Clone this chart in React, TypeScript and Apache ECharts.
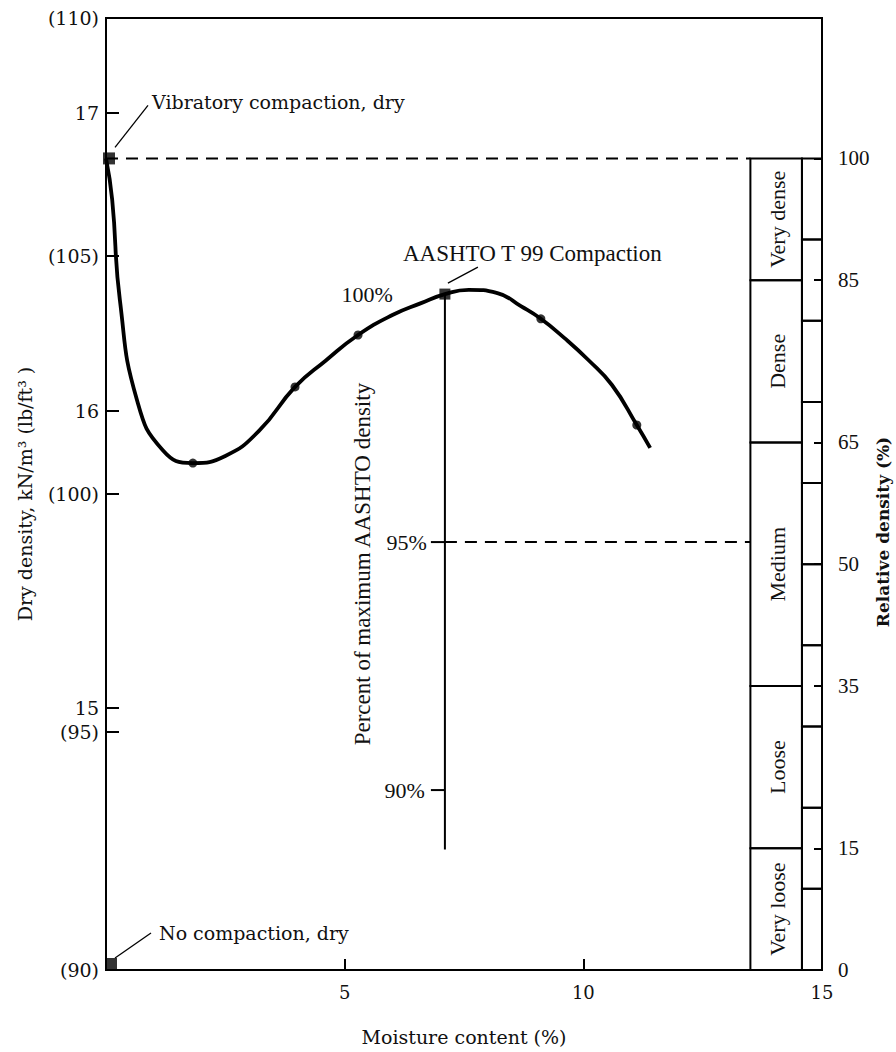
import React, { useEffect, useRef } from 'react';
import * as echarts from 'echarts';

// ---------- data ----------
// compaction curve trace (moisture %, dry density lb/ft3)
const CURVE_MOISTURE = [0, 0.13, 0.29, 0.65, 1.19, 1.82, 2.5, 3.2, 3.96, 4.6, 5.28, 6.0, 6.6, 7.1, 7.6, 8.2, 8.7, 9.11, 9.6, 10.1, 10.6, 11.12, 11.4];
const CURVE_DENSITY = [107.05, 106.18, 104.08, 101.97, 100.92, 100.65, 100.8, 101.32, 102.25, 102.8, 103.34, 103.76, 104.01, 104.2, 104.29, 104.22, 103.94, 103.68, 103.28, 102.82, 102.29, 101.45, 100.97];
// measured points (circles)
const MEASURED_MOISTURE = [1.82, 3.96, 5.28, 9.11, 11.12];
const MEASURED_DENSITY = [100.65, 102.25, 103.34, 103.68, 101.45];
// special points (squares)
const VIBRATORY = [0, 107.05];
const AASHTO_MAX = [7.1, 104.2];
const NO_COMPACTION = [0, 90];

// axes
const LB_MIN = 90;
const LB_MAX = 110;
const KN_MIN = 14.12;
const KN_MAX = 17.32;
const KN_TICKS = [15, 16, 17];
const RD_TICKS = [0, 15, 35, 50, 65, 85, 100];

// relative density classes
const RD_CLASSES = ['Very loose', 'Loose', 'Medium', 'Dense', 'Very dense'];
const RD_CLASS_LIMITS = [0, 15, 35, 65, 85, 100];
const RD_SCALE_DIVISIONS = [0, 10, 20, 30, 40, 50, 60, 70, 80, 90, 100];

// percent of max AASHTO density scale
const PERCENT_TICKS = [100, 95, 90];
const PERCENT_AXIS_END = 88.8;
const PERCENT_DASHED = 95;

const ANNOTATION_TEXTS = ['Vibratory compaction, dry', 'No compaction, dry', 'AASHTO T 99 Compaction'];
const ANNOTATION_POINTS = [VIBRATORY, NO_COMPACTION, AASHTO_MAX];

// ---------- layout / style ----------
const CLASS_COLUMN_START = 13.5; // moisture units
const SCALE_COLUMN_START = 14.58;
const SERIF = 'DejaVu Serif';
const TIMES = 'Liberation Serif';
const INK = '#111';

const ANNOTATION_LAYOUT = [
  { l1: [9, -11], l2: [42, -53], t: [46, -56], family: SERIF, size: 19 },
  { l1: [9, -12], l2: [45, -37], t: [53, -37], family: SERIF, size: 19 },
  { l1: [3, -11], l2: [33, -27], t: [-42, -41], family: TIMES, size: 23 },
];
const PERCENT_LAYOUT = [
  { tick: false, dx: -52 },
  { tick: true, dx: -18 },
  { tick: true, dx: -20 },
];

function buildOption() {
  const rdMax = (100 * (LB_MAX - NO_COMPACTION[1])) / (VIBRATORY[1] - NO_COMPACTION[1]);
  const axisLine = { show: true, lineStyle: { color: '#000', width: 2 } };
  const tickStyle = { color: '#000', width: 2 };

  return {
    animation: false,
    backgroundColor: '#fff',
    grid: { left: 106, top: 18, right: 74, bottom: 82, show: true, borderColor: '#000', borderWidth: 2, backgroundColor: 'transparent' },
    xAxis: {
      type: 'value', min: 0, max: 15, interval: 5,
      axisLine, axisTick: { show: true, inside: true, length: 11, lineStyle: tickStyle },
      axisLabel: { showMinLabel: false, color: INK, fontFamily: SERIF, fontSize: 18, margin: 13 },
      splitLine: { show: false },
      name: 'Moisture content (%)', nameLocation: 'middle', nameGap: 57,
      nameTextStyle: { color: INK, fontFamily: SERIF, fontSize: 19 },
    },
    yAxis: [
      {
        type: 'value', min: LB_MIN, max: LB_MAX, interval: 5, position: 'left',
        axisLine, axisTick: { show: true, inside: true, length: 13, lineStyle: tickStyle },
        axisLabel: { formatter: (v: number) => `(${v})`, color: INK, fontFamily: SERIF, fontSize: 19, margin: 7 },
        splitLine: { show: false },
        name: 'Dry density, kN/m³ (lb/ft³ )', nameLocation: 'middle', nameGap: 72,
        nameTextStyle: { color: INK, fontFamily: SERIF, fontSize: 19 },
      },
      {
        type: 'value', min: KN_MIN, max: KN_MAX, position: 'left',
        axisLine: { show: false },
        axisTick: { show: true, inside: true, length: 13, lineStyle: tickStyle, customValues: KN_TICKS },
        axisLabel: { customValues: KN_TICKS, color: INK, fontFamily: SERIF, fontSize: 19, margin: 7 },
        splitLine: { show: false },
      },
      {
        type: 'value', min: 0, max: rdMax, position: 'right',
        axisLine, axisTick: { show: true, inside: true, length: 8, lineStyle: tickStyle, customValues: RD_TICKS },
        axisLabel: { customValues: RD_TICKS, color: INK, fontFamily: TIMES, fontSize: 21, margin: 16 },
        splitLine: { show: false },
      },
    ],
    graphic: [
      {
        type: 'text', x: 883, y: 532, rotation: Math.PI / 2,
        style: { text: 'Relative density (%)', fill: INK, fontFamily: SERIF, fontSize: 17, fontWeight: 'bold', align: 'center', verticalAlign: 'middle' },
      },
    ],
    series: [
      {
        name: 'curve', type: 'line', xAxisIndex: 0, yAxisIndex: 0,
        data: CURVE_MOISTURE.map((m, i) => [m, CURVE_DENSITY[i]]),
        smooth: 0.5, showSymbol: false, symbol: 'none',
        lineStyle: { color: '#000', width: 3.8 }, z: 3, silent: true,
      },
      {
        name: 'measured', type: 'scatter', xAxisIndex: 0, yAxisIndex: 0,
        data: MEASURED_MOISTURE.map((m, i) => [m, MEASURED_DENSITY[i]]),
        symbol: 'circle', symbolSize: 9, itemStyle: { color: '#000' }, z: 4, silent: true,
      },
      {
        name: 'special', type: 'scatter', xAxisIndex: 0, yAxisIndex: 0, clip: false,
        data: [
          { value: VIBRATORY, symbolSize: 12, symbolOffset: [3, 0] },
          { value: AASHTO_MAX, symbolSize: 11 },
          { value: NO_COMPACTION, symbolSize: 12, symbolOffset: [5, -6] },
        ],
        symbol: 'rect', itemStyle: { color: '#000' }, z: 5, silent: true,
      },
      {
        name: 'vibratory level', type: 'line', xAxisIndex: 0, yAxisIndex: 0,
        data: [[VIBRATORY[0], VIBRATORY[1]], [CLASS_COLUMN_START, VIBRATORY[1]]],
        symbol: 'none', lineStyle: { color: '#000', width: 2, type: [12, 8] }, silent: true,
      },
      {
        name: '95% level', type: 'line', xAxisIndex: 0, yAxisIndex: 0,
        data: [
          [AASHTO_MAX[0], (AASHTO_MAX[1] * PERCENT_DASHED) / 100],
          [CLASS_COLUMN_START, (AASHTO_MAX[1] * PERCENT_DASHED) / 100],
        ],
        symbol: 'none', lineStyle: { color: '#000', width: 2, type: [12, 8] }, silent: true,
      },
      {
        name: 'percent axis line', type: 'line', xAxisIndex: 0, yAxisIndex: 0,
        data: [
          [AASHTO_MAX[0], AASHTO_MAX[1]],
          [AASHTO_MAX[0], (AASHTO_MAX[1] * PERCENT_AXIS_END) / 100],
        ],
        symbol: 'none', lineStyle: { color: '#000', width: 2 }, silent: true,
      },
      {
        name: 'percent axis', type: 'custom', xAxisIndex: 0, yAxisIndex: 0, silent: true,
        data: PERCENT_TICKS.map((p, i) => [p, i]),
        renderItem: (params: any, api: any) => {
          const pct = api.value(0);
          const idx = api.value(1);
          const lay = PERCENT_LAYOUT[idx];
          const p = api.coord([AASHTO_MAX[0], (AASHTO_MAX[1] * pct) / 100]);
          const children: any[] = [];
          if (lay.tick) {
            children.push({ type: 'line', shape: { x1: p[0] - 14, y1: p[1], x2: p[0], y2: p[1] }, style: { stroke: '#000', lineWidth: 2 } });
          }
          children.push({
            type: 'text', x: p[0] + lay.dx, y: p[1],
            style: { text: `${pct}%`, fill: INK, fontFamily: TIMES, fontSize: 22, align: 'right', verticalAlign: 'middle' },
          });
          if (idx === 0) {
            const m = api.coord([AASHTO_MAX[0], (AASHTO_MAX[1] * PERCENT_DASHED) / 100]);
            children.push({
              type: 'text', x: m[0] - 82, y: m[1] + 22, rotation: Math.PI / 2,
              style: { text: 'Percent of maximum AASHTO density', fill: INK, fontFamily: TIMES, fontSize: 23, align: 'center', verticalAlign: 'middle' },
            });
          }
          return { type: 'group', children };
        },
      },
      {
        name: 'classes', type: 'custom', xAxisIndex: 0, yAxisIndex: 2, silent: true,
        data: RD_CLASSES.map((_, i) => [RD_CLASS_LIMITS[i], RD_CLASS_LIMITS[i + 1], i]),
        renderItem: (params: any, api: any) => {
          const lo = api.value(0);
          const hi = api.value(1);
          const idx = api.value(2);
          const pLo = api.coord([CLASS_COLUMN_START, lo]);
          const pHi = api.coord([CLASS_COLUMN_START, hi]);
          const xR = api.coord([SCALE_COLUMN_START, lo])[0];
          return {
            type: 'group',
            children: [
              { type: 'rect', shape: { x: pLo[0], y: pHi[1], width: xR - pLo[0], height: pLo[1] - pHi[1] }, style: { fill: 'none', stroke: '#000', lineWidth: 2 } },
              {
                type: 'text', x: (pLo[0] + xR) / 2 + 1, y: (pLo[1] + pHi[1]) / 2, rotation: Math.PI / 2,
                style: { text: RD_CLASSES[idx], fill: INK, fontFamily: TIMES, fontSize: 22, align: 'center', verticalAlign: 'middle' },
              },
            ],
          };
        },
      },
      {
        name: 'scale', type: 'custom', xAxisIndex: 0, yAxisIndex: 2, silent: true,
        data: RD_SCALE_DIVISIONS.slice(0, -1).map((d, i) => [d, RD_SCALE_DIVISIONS[i + 1]]),
        renderItem: (params: any, api: any) => {
          const pLo = api.coord([SCALE_COLUMN_START, api.value(0)]);
          const pHi = api.coord([SCALE_COLUMN_START, api.value(1)]);
          const xR = api.coord([15, 0])[0];
          return { type: 'rect', shape: { x: pLo[0], y: pHi[1], width: xR - pLo[0], height: pLo[1] - pHi[1] }, style: { fill: 'none', stroke: '#000', lineWidth: 2 } };
        },
      },
      {
        name: 'annotations', type: 'custom', xAxisIndex: 0, yAxisIndex: 0, silent: true, z: 6,
        data: ANNOTATION_POINTS.map((p, i) => [p[0], p[1], i]),
        renderItem: (params: any, api: any) => {
          const idx = api.value(2);
          const lay = ANNOTATION_LAYOUT[idx];
          const p = api.coord([api.value(0), api.value(1)]);
          return {
            type: 'group',
            children: [
              { type: 'line', shape: { x1: p[0] + lay.l1[0], y1: p[1] + lay.l1[1], x2: p[0] + lay.l2[0], y2: p[1] + lay.l2[1] }, style: { stroke: '#000', lineWidth: 1.3 } },
              {
                type: 'text', x: p[0] + lay.t[0], y: p[1] + lay.t[1],
                style: { text: ANNOTATION_TEXTS[idx], fill: INK, fontFamily: lay.family, fontSize: lay.size, align: 'left', verticalAlign: 'middle' },
              },
            ],
          };
        },
      },
    ],
  };
}

export default function App() {
  const ref = useRef<HTMLDivElement>(null);
  useEffect(() => {
    if (!ref.current) return;
    const chart = echarts.init(ref.current, null, { renderer: 'svg' });
    chart.setOption(buildOption() as any);
    return () => chart.dispose();
  }, []);
  return (
    <div
      ref={ref}
      style={{ position: 'absolute', left: 0, top: 0, width: 896, height: 1052, background: '#fff' }}
    />
  );
}
